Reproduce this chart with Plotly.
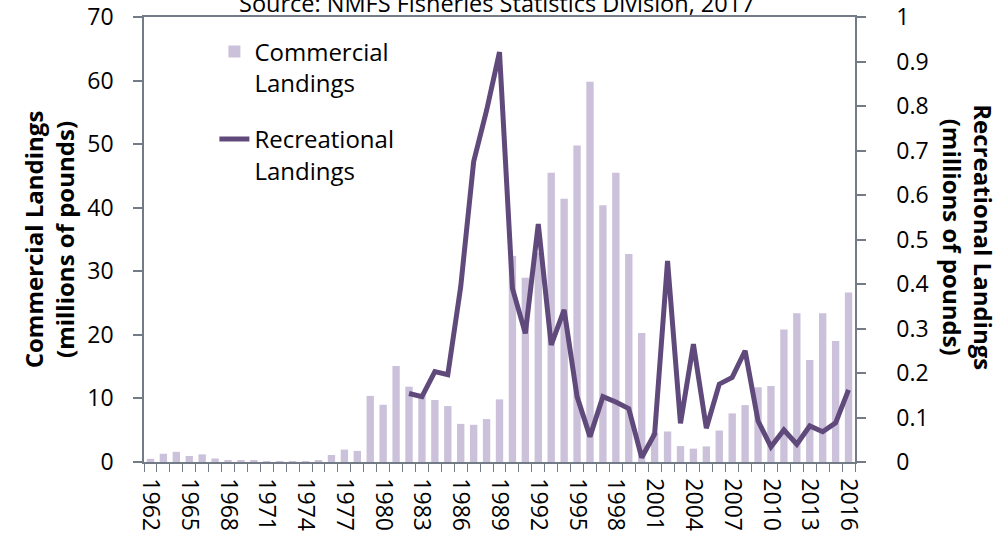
import plotly.graph_objects as go

years = list(range(1962, 2017))
commercial = [0.5, 1.3, 1.6, 0.95, 1.2, 0.55, 0.3, 0.2, 0.2, 0.1, 0.1, 0.15, 0.15, 0.25,
              1.1, 1.95, 1.75, 10.4, 9.0, 15.1, 11.85, 10.5, 9.75, 8.8, 6.0, 5.85, 6.75,
              9.85, 32.4, 29.0, 32.9, 45.5, 41.4, 49.8, 59.8, 40.4, 45.5, 32.7, 20.3, 4.6,
              4.8, 2.5, 2.1, 2.45, 4.95, 7.65, 8.95, 11.75, 11.95, 20.85, 23.4, 16.05,
              23.4, 19.05, 26.65]
recreational = [None] * 20 + [0.154, 0.147, 0.203, 0.196, 0.394, 0.675, 0.79, 0.921,
                              0.39, 0.289, 0.535, 0.263, 0.342, 0.147, 0.057, 0.147,
                              0.135, 0.12, 0.01, 0.063, 0.452, 0.087, 0.265, 0.076,
                              0.175, 0.19, 0.25, 0.092, 0.034, 0.072, 0.04, 0.081,
                              0.068, 0.088, 0.162]
year_ticks = years[::3]
left_ticks = list(range(0, 71, 10))
right_ticks = [0, 0.1, 0.2, 0.3, 0.4, 0.5, 0.6, 0.7, 0.8, 0.9, 1]
right_labels = ["0", "0.1", "0.2", "0.3", "0.4", "0.5", "0.6", "0.7", "0.8", "0.9", "1"]

BAR = "#CCC1DA"
LINE = "#604A7B"
AX = "#737C86"
FONT = "Open Sans"

fig = go.Figure()
fig.add_trace(go.Bar(x=years, y=commercial, name="Commercial<br>Landings",
                     legendgroup="commercial",
                     marker=dict(color=BAR, line=dict(width=0)), width=0.57))
fig.add_trace(go.Scatter(x=years, y=recreational, name="Recreational<br>Landings",
                         legendgroup="recreational",
                         mode="lines", line=dict(color=LINE, width=5), yaxis="y2",
                         connectgaps=False))

fig.update_layout(
    width=1008, height=536,
    margin=dict(l=144, r=153, t=17, b=74, autoexpand=False),
    paper_bgcolor="white", plot_bgcolor="white",
    font=dict(family=FONT, color="black", size=23),
    showlegend=True,
    legend=dict(x=0.099, y=0.972, xanchor="left", yanchor="top",
                bgcolor="rgba(0,0,0,0)", font=dict(size=24), valign="top",
                tracegroupgap=22, itemwidth=30),
    xaxis=dict(range=[1961.5, 2016.5], tickmode="array", tickvals=year_ticks,
               ticktext=[str(y) for y in year_ticks], tickangle=90,
               ticks="", showline=True, linecolor=AX, linewidth=1.5, mirror=True,
               showgrid=False, zeroline=False, ticklabelstandoff=10, automargin=False,
               tickfont=dict(size=23),
               minor=dict(ticks="outside", tick0=1961.5, dtick=1, ticklen=8,
                          tickcolor=AX, tickwidth=1.2, showgrid=False)),
    yaxis=dict(range=[0, 70], tickvals=left_ticks, ticks="outside", ticklen=9,
               tickcolor=AX, tickwidth=1.5, showline=True, linecolor=AX, linewidth=1.5,
               showgrid=False, zeroline=False, tickfont=dict(size=23), tickangle=0,
               ticklabelstandoff=15, automargin=False,
               title=dict(text="<b>Commercial Landings<br>(millions of pounds)</b>",
                          font=dict(size=24), standoff=6)),
    yaxis2=dict(range=[0, 1], tickvals=right_ticks, ticktext=right_labels,
                overlaying="y", side="right", ticks="outside", ticklen=9,
                tickcolor=AX, tickwidth=1.5, showline=True, linecolor=AX, linewidth=1.5,
                showgrid=False, zeroline=False, tickfont=dict(size=23), tickangle=0,
                ticklabelstandoff=26, automargin=False),
    bargap=0.43,
)

fig.add_annotation(text="<b>Recreational Landings<br>(millions of pounds)</b>",
                   xref="paper", yref="paper", x=1.159, y=0.505, textangle=90,
                   showarrow=False, font=dict(size=24), xanchor="center", yanchor="middle")
fig.add_annotation(text="Source: NMFS Fisheries Statistics Division, 2017",
                   xref="paper", yref="paper", x=0.5, y=1, xanchor="center",
                   yanchor="bottom", xshift=-3, yshift=-4, showarrow=False,
                   font=dict(size=23.5))

fig.write_html("out.html", config={"displayModeBar": False},
               post_script="document.body.style.margin='0px';")
